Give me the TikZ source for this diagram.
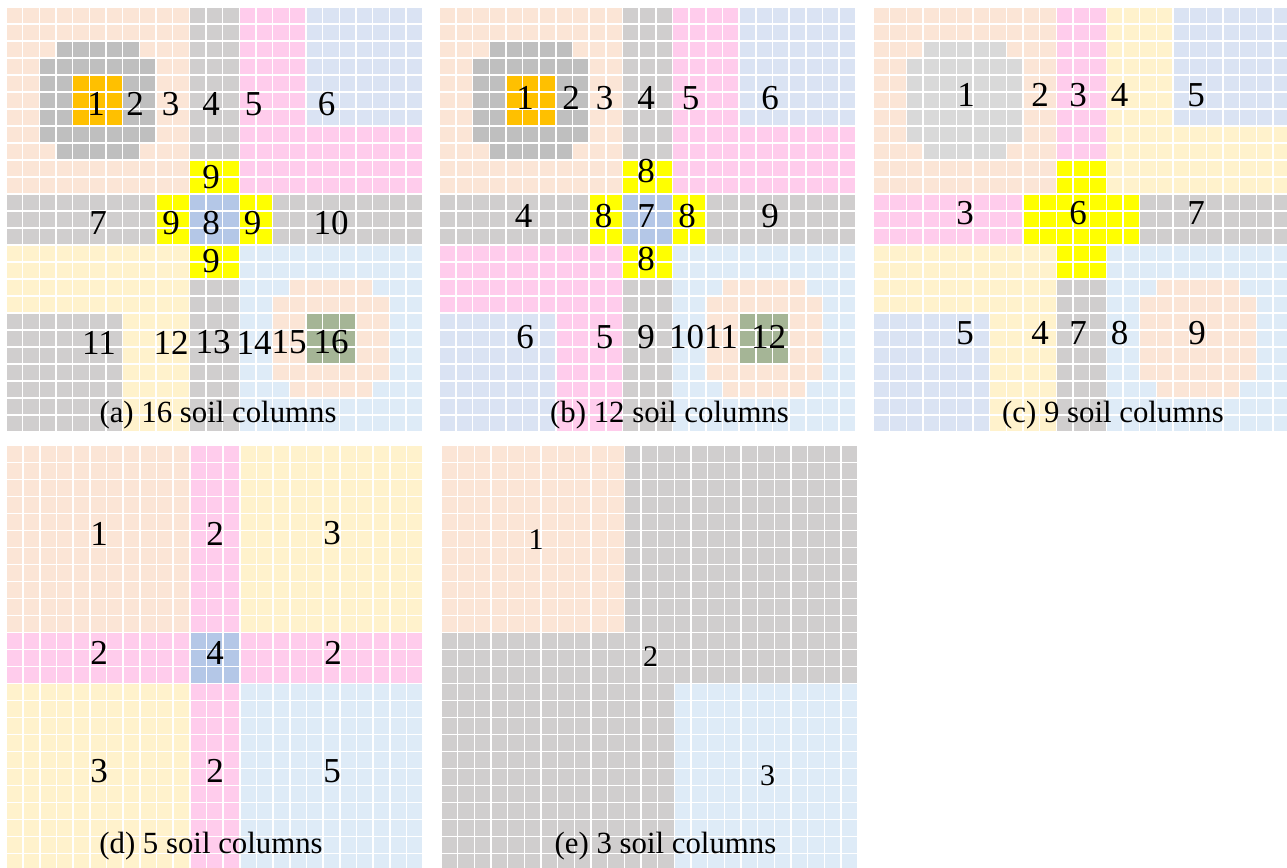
\documentclass[tikz,border=0pt]{standalone}
\usepackage{fontspec}
\setmainfont{Liberation Serif}
\usepackage{tikz}

\definecolor{peach}{HTML}{FBE5D6}
\definecolor{stripgray}{HTML}{D0CECE}
\definecolor{ringgray}{HTML}{BFBFBF}
\definecolor{palegray}{HTML}{D9D9D9}
\definecolor{amber}{HTML}{FFC000}
\definecolor{rose}{HTML}{FFCCEC}
\definecolor{lavblue}{HTML}{DAE3F3}
\definecolor{skyblue}{HTML}{DEEBF7}
\definecolor{lemon}{HTML}{FFFF00}
\definecolor{midblue}{HTML}{B4C7E7}
\definecolor{cream}{HTML}{FFF2CC}
\definecolor{sage}{HTML}{A5B596}

% round 7x7 blob, corners cut off
\newcommand{\ringfill}[3]{%
  \fill[#1] (#2+1,#3) rectangle (#2+6,#3+7);
  \fill[#1] (#2,#3+1) rectangle (#2+7,#3+6);
}
% plus shape around the middle
\newcommand{\crossfill}[1]{%
  \fill[#1] (11,9) rectangle (14,16);
  \fill[#1] (9,11) rectangle (16,14);
}
% white lines over a 25x25 panel
\newcommand{\cellgrid}{%
  \foreach \k in {0,...,25} {
    \draw[cellline] (\k,0) -- (\k,25);
    \draw[cellline] (0,\k) -- (25,\k);
  }
}

\begin{document}
\begin{tikzpicture}[
    x=0.5pt, y=-0.5pt,
    panel/.style={x=8.333pt, y=-8.5pt},
    cellline/.style={draw=white, line width=0.8pt},
    num/.style={inner sep=0pt, font=\fontsize{17.5}{17.5}\selectfont},
    smallnum/.style={inner sep=0pt, font=\fontsize{15}{15}\selectfont},
    captext/.style={inner sep=0pt, anchor=base, font=\fontsize{15.4}{15.4}\selectfont}
  ]
  \useasboundingbox (0,0) rectangle (1287,868);
  \clip (0,0) rectangle (1287,868);

  % (a)
  \begin{scope}[shift={(3pt,-3.5pt)}, panel]
    \fill[peach] (0,0) rectangle (11,11);
    \ringfill{ringgray}{2}{2}
    \fill[amber] (4,4) rectangle (7,7);
    \fill[stripgray] (11,0) rectangle (14,9);
    \fill[rose] (14,0) rectangle (18,7);
    \fill[rose] (14,7) rectangle (25,11);
    \fill[lavblue] (18,0) rectangle (25,7);
    \fill[stripgray] (0,11) rectangle (9,14);
    \fill[stripgray] (16,11) rectangle (25,14);
    \crossfill{lemon}
    \fill[midblue] (11,11) rectangle (14,14);
    \fill[cream] (0,14) rectangle (11,18);
    \fill[stripgray] (0,18) rectangle (7,25);
    \fill[cream] (7,18) rectangle (11,25);
    \fill[stripgray] (11,16) rectangle (14,25);
    \fill[skyblue] (14,14) rectangle (25,25);
    \ringfill{peach}{16}{16}
    \fill[sage] (18,18) rectangle (21,21);
    \cellgrid
  \end{scope}

  % (b)
  \begin{scope}[shift={(219.65pt,-3.5pt)}, panel]
    \fill[peach] (0,0) rectangle (11,11);
    \ringfill{ringgray}{2}{2}
    \fill[amber] (4,4) rectangle (7,7);
    \fill[stripgray] (11,0) rectangle (14,9);
    \fill[rose] (14,0) rectangle (18,7);
    \fill[rose] (14,7) rectangle (25,11);
    \fill[lavblue] (18,0) rectangle (25,7);
    \fill[stripgray] (0,11) rectangle (9,14);
    \fill[stripgray] (16,11) rectangle (25,14);
    \crossfill{lemon}
    \fill[midblue] (11,11) rectangle (14,14);
    \fill[rose] (0,14) rectangle (11,18);
    \fill[lavblue] (0,18) rectangle (7,25);
    \fill[rose] (7,18) rectangle (11,25);
    \fill[stripgray] (11,16) rectangle (14,25);
    \fill[skyblue] (14,14) rectangle (25,25);
    \ringfill{peach}{16}{16}
    \fill[sage] (18,18) rectangle (21,21);
    \cellgrid
  \end{scope}

  % (c)
  \begin{scope}[shift={(436.5pt,-3.5pt)}, panel]
    \fill[peach] (0,0) rectangle (11,11);
    \ringfill{palegray}{2}{2}
    \fill[rose] (11,0) rectangle (14,9);
    \fill[cream] (14,0) rectangle (18,7);
    \fill[cream] (14,7) rectangle (25,11);
    \fill[lavblue] (18,0) rectangle (25,7);
    \fill[rose] (0,11) rectangle (9,14);
    \fill[stripgray] (16,11) rectangle (25,14);
    \crossfill{lemon}
    \fill[cream] (0,14) rectangle (11,18);
    \fill[lavblue] (0,18) rectangle (7,25);
    \fill[cream] (7,18) rectangle (11,25);
    \fill[stripgray] (11,16) rectangle (14,25);
    \fill[skyblue] (14,14) rectangle (25,25);
    \ringfill{peach}{16}{16}
    \cellgrid
  \end{scope}

  % (d)
  \begin{scope}[shift={(3.3pt,-222.65pt)}, panel]
    \fill[peach] (0,0) rectangle (11,11);
    \fill[rose] (11,0) rectangle (14,11);
    \fill[cream] (14,0) rectangle (25,11);
    \fill[rose] (0,11) rectangle (25,14);
    \fill[midblue] (11,11) rectangle (14,14);
    \fill[cream] (0,14) rectangle (11,25);
    \fill[rose] (11,14) rectangle (14,25);
    \fill[skyblue] (14,14) rectangle (25,25);
    \cellgrid
  \end{scope}

  % (e)
  \begin{scope}[shift={(220.5pt,-222.65pt)}, panel]
    \fill[stripgray] (0,0) rectangle (25,25);
    \fill[peach] (0,0) rectangle (11,11);
    \fill[skyblue] (14,14) rectangle (25,25);
    \cellgrid
  \end{scope}

  % labels (a)
  \node (a1) [num] at (96,104) {1};
  \node (a2) [num] at (135,104) {2};
  \node (a3) [num] at (170.5,104) {3};
  \node (a4) [num] at (211,104) {4};
  \node (a5) [num] at (253.5,104) {5};
  \node (a6) [num] at (326.5,104) {6};
  \node (a9t) [num] at (211,177) {9};
  \node (a7) [num] at (98,223) {7};
  \node (a9l) [num] at (171,223) {9};
  \node (a8) [num] at (211,223) {8};
  \node (a9r) [num] at (252.5,223) {9};
  \node (a10) [num] at (331,223) {10};
  \node (a9b) [num] at (211,261) {9};
  \node (a11) [num] at (99,342.5) {11};
  \node (a12) [num] at (171,342.5) {12};
  \node (a13) [num] at (213,342.5) {13};
  \node (a14) [num] at (254,342.5) {14};
  \node (a15) [num] at (289,342.5) {15};
  \node (a16) [num] at (331,342.5) {16};
  \node (capa) [captext] at (218,422) {(a) 16 soil columns};

  % labels (b)
  \node (b1) [num] at (525,98) {1};
  \node (b2) [num] at (571,98) {2};
  \node (b3) [num] at (604.5,98) {3};
  \node (b4) [num] at (646,98) {4};
  \node (b5) [num] at (690.5,98) {5};
  \node (b6) [num] at (770,98) {6};
  \node (b8t) [num] at (646,171) {8};
  \node (b4m) [num] at (523.5,216) {4};
  \node (b8l) [num] at (603.5,216) {8};
  \node (b7) [num] at (646,216) {7};
  \node (b8r) [num] at (687,216) {8};
  \node (b9) [num] at (770,216) {9};
  \node (b8b) [num] at (646,259) {8};
  \node (b6l) [num] at (525,337) {6};
  \node (b5l) [num] at (604.5,337) {5};
  \node (b9l) [num] at (646,337) {9};
  \node (b10) [num] at (686.5,337) {10};
  \node (b11) [num] at (721,337) {11};
  \node (b12) [num] at (768.5,337) {12};
  \node (capb) [captext] at (669.5,422) {(b) 12 soil columns};

  % labels (c)
  \node (c1) [num] at (966,95) {1};
  \node (c2) [num] at (1040,95) {2};
  \node (c3) [num] at (1078,95) {3};
  \node (c4) [num] at (1119.5,95) {4};
  \node (c5) [num] at (1196,95) {5};
  \node (c3m) [num] at (965,213) {3};
  \node (c6) [num] at (1078,213) {6};
  \node (c7) [num] at (1196,213) {7};
  \node (c5l) [num] at (965,333) {5};
  \node (c4l) [num] at (1040,333) {4};
  \node (c7l) [num] at (1078,333) {7};
  \node (c8) [num] at (1119.5,333) {8};
  \node (c9) [num] at (1197,333) {9};
  \node (capc) [captext] at (1113,422) {(c) 9 soil columns};

  % labels (d)
  \node (d1) [num] at (99,533.5) {1};
  \node (d2t) [num] at (215,533.5) {2};
  \node (d3t) [num] at (332,533.5) {3};
  \node (d2l) [num] at (99,652.5) {2};
  \node (d4) [num] at (215,652.5) {4};
  \node (d2r) [num] at (333,652.5) {2};
  \node (d3b) [num] at (99,771) {3};
  \node (d2b) [num] at (215,771) {2};
  \node (d5) [num] at (332,771) {5};
  \node (capd) [captext] at (211,853) {(d) 5 soil columns};

  % labels (e)
  \node (e1) [smallnum] at (536,540) {1};
  \node (e2) [smallnum] at (650.5,657) {2};
  \node (e3) [smallnum] at (767.5,776) {3};
  \node (cape) [captext] at (665.5,853) {(e) 3 soil columns};
\end{tikzpicture}
\end{document}
